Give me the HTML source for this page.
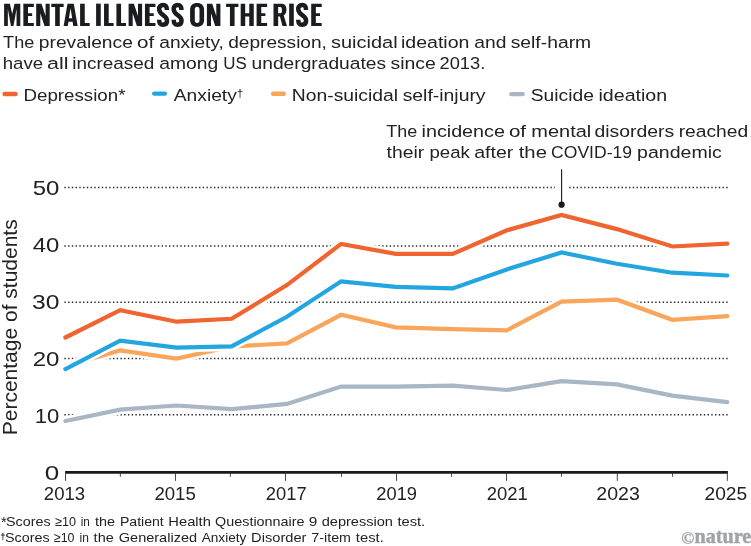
<!DOCTYPE html>
<html lang="en">
<head>
<meta charset="utf-8">
<title>Mental illness on the rise</title>
<style>
html,body{margin:0;padding:0;background:#fff;}
body{width:751px;height:546px;overflow:hidden;font-family:"Liberation Sans",sans-serif;}
svg{display:block;will-change:transform;}
text{font-family:"Liberation Sans",sans-serif;fill:#222222;}
.serif{font-family:"Liberation Serif",serif;}
</style>
</head>
<body>
<svg width="751" height="546" viewBox="0 0 751 546">
<rect width="751" height="546" fill="#fff"/>
<g fill="#1a1d20" fill-rule="evenodd">
<path transform="translate(4.1 3.65)" d="M0,0H5.8L8.1,10.4L10.4,0H16.2V22.3H12.45V5.4L9.35,22.3H6.85L3.75,5.4V22.3H0Z"/>
<path transform="translate(23.35 3.65)" d="M0,0H10.5V3.3H4.65V9.6H8.8V12.4H4.65V19.3H10.5V22.3H0Z"/>
<path transform="translate(36.2 3.65)" d="M0,0H5.3L9.4,12.4V0H13.5V22.3H8.3L4.1,9.7V22.3H0Z"/>
<path transform="translate(51.3 3.65)" d="M0,0H12.35V3.3H8.5V22.3H3.85V3.3H0Z"/>
<path transform="translate(63.65 3.65)" d="M3.85,0H10.15L14.05,22.3H9.65L8.92,18.1H4.82L4.1,22.3H0ZM6.9,4.6L8.55,14.6H5.25Z"/>
<path transform="translate(80.1 3.65)" d="M0,0H4.65V19.3H9.6V22.3H0Z"/>
<path transform="translate(96.1 3.65)" d="M0,0H4.65V22.3H0Z"/>
<path transform="translate(104.05 3.65)" d="M0,0H4.65V19.3H9.6V22.3H0Z"/>
<path transform="translate(116.4 3.65)" d="M0,0H4.65V19.3H9.6V22.3H0Z"/>
<path transform="translate(128.6 3.65)" d="M0,0H5.3L9.4,12.4V0H13.5V22.3H8.3L4.1,9.7V22.3H0Z"/>
<path transform="translate(144.95 3.65)" d="M0,0H10.5V3.3H4.65V9.6H8.8V12.4H4.65V19.3H10.5V22.3H0Z"/>
<path transform="translate(156.85 3.65)" d="M10.05,6.4C10.05,2.7 8.9,1.4 6.2,1.4C3.6,1.4 2.3,2.8 2.3,5.6C2.3,8.6 4.2,10.0 6.3,11.4C8.6,12.9 10.15,14.2 10.15,17.0C10.15,19.9 8.9,21.0 6.2,21.0C3.5,21.0 2.3,19.8 2.3,16.2" fill="none" stroke="#1a1d20" stroke-width="4.5"/>
<path transform="translate(171.4 3.65)" d="M10.05,6.4C10.05,2.7 8.9,1.4 6.2,1.4C3.6,1.4 2.3,2.8 2.3,5.6C2.3,8.6 4.2,10.0 6.3,11.4C8.6,12.9 10.15,14.2 10.15,17.0C10.15,19.9 8.9,21.0 6.2,21.0C3.5,21.0 2.3,19.8 2.3,16.2" fill="none" stroke="#1a1d20" stroke-width="4.5"/>
<path transform="translate(190.1 3.65)" d="M7,-0.7C11.4,-0.7 14,1.5 14,6.3V16.2C14,21 11.4,23.2 7,23.2C2.6,23.2 0,21 0,16.2V6.3C0,1.5 2.6,-0.7 7,-0.7ZM7.05,3.2C8.6,3.2 9.4,4.1 9.4,5.9V16.6C9.4,18.4 8.6,19.3 7.05,19.3C5.5,19.3 4.7,18.4 4.7,16.6V5.9C4.7,4.1 5.5,3.2 7.05,3.2Z"/>
<path transform="translate(206.9 3.65)" d="M0,0H5.3L9.4,12.4V0H13.5V22.3H8.3L4.1,9.7V22.3H0Z"/>
<path transform="translate(226.1 3.65)" d="M0,0H12.35V3.3H8.5V22.3H3.85V3.3H0Z"/>
<path transform="translate(240.7 3.65)" d="M0,0H4.5V9.6H8.55V0H13.05V22.3H8.55V12.9H4.5V22.3H0Z"/>
<path transform="translate(256.6 3.65)" d="M0,0H10.5V3.3H4.65V9.6H8.8V12.4H4.65V19.3H10.5V22.3H0Z"/>
<path transform="translate(273.5 3.65)" d="M0,0H7.6C11.3,0 12.9,1.7 12.9,6.1C12.9,8.9 12.0,10.7 10.2,11.6L13.45,22.3H9.0L6.4,12.9H4.65V22.3H0ZM4.65,3.3H6.5C7.9,3.3 8.45,4.2 8.45,6.5C8.45,8.8 7.9,9.7 6.5,9.7H4.65Z"/>
<path transform="translate(289.15 3.65)" d="M0,0H4.65V22.3H0Z"/>
<path transform="translate(295.95 3.65)" d="M10.05,6.4C10.05,2.7 8.9,1.4 6.2,1.4C3.6,1.4 2.3,2.8 2.3,5.6C2.3,8.6 4.2,10.0 6.3,11.4C8.6,12.9 10.15,14.2 10.15,17.0C10.15,19.9 8.9,21.0 6.2,21.0C3.5,21.0 2.3,19.8 2.3,16.2" fill="none" stroke="#1a1d20" stroke-width="4.5"/>
<path transform="translate(311.2 3.65)" d="M0,0H10.5V3.3H4.65V9.6H8.8V12.4H4.65V19.3H10.5V22.3H0Z"/>
</g>
<text transform="translate(3.10 47.5) rotate(0.02)" font-size="17.2" textLength="31.13" lengthAdjust="spacingAndGlyphs">The</text>
<text transform="translate(38.78 47.5) rotate(0.02)" font-size="17.2" textLength="94.09" lengthAdjust="spacingAndGlyphs">prevalence</text>
<text transform="translate(137.05 47.5) rotate(0.02)" font-size="17.2" textLength="17.17" lengthAdjust="spacingAndGlyphs">of</text>
<text transform="translate(159.29 47.5) rotate(0.02)" font-size="17.2" textLength="64.61" lengthAdjust="spacingAndGlyphs">anxiety,</text>
<text transform="translate(228.25 47.5) rotate(0.02)" font-size="17.2" textLength="98.65" lengthAdjust="spacingAndGlyphs">depression,</text>
<text transform="translate(331.04 47.5) rotate(0.02)" font-size="17.2" textLength="66.54" lengthAdjust="spacingAndGlyphs">suicidal</text>
<text transform="translate(400.98 47.5) rotate(0.02)" font-size="17.2" textLength="68.47" lengthAdjust="spacingAndGlyphs">ideation</text>
<text transform="translate(474.32 47.5) rotate(0.02)" font-size="17.2" textLength="32.08" lengthAdjust="spacingAndGlyphs">and</text>
<text transform="translate(510.70 47.5) rotate(0.02)" font-size="17.2" textLength="80.45" lengthAdjust="spacingAndGlyphs">self-harm</text>
<text transform="translate(2.74 68.8) rotate(0.02)" font-size="17.2" textLength="40.39" lengthAdjust="spacingAndGlyphs">have</text>
<text transform="translate(47.07 68.8) rotate(0.02)" font-size="17.2" textLength="21.45" lengthAdjust="spacingAndGlyphs">all</text>
<text transform="translate(72.17 68.8) rotate(0.02)" font-size="17.2" textLength="82.26" lengthAdjust="spacingAndGlyphs">increased</text>
<text transform="translate(159.28 68.8) rotate(0.02)" font-size="17.2" textLength="59.02" lengthAdjust="spacingAndGlyphs">among</text>
<text transform="translate(223.34 68.8) rotate(0.02)" font-size="17.2" textLength="23.47" lengthAdjust="spacingAndGlyphs">US</text>
<text transform="translate(251.54 68.8) rotate(0.02)" font-size="17.2" textLength="134.47" lengthAdjust="spacingAndGlyphs">undergraduates</text>
<text transform="translate(390.42 68.8) rotate(0.02)" font-size="17.2" textLength="45.32" lengthAdjust="spacingAndGlyphs">since</text>
<text transform="translate(439.53 68.8) rotate(0.02)" font-size="17.2" textLength="45.70" lengthAdjust="spacingAndGlyphs">2013.</text>
<line x1="4.55" y1="94.0" x2="15.55" y2="94.0" stroke="#f0642f" stroke-width="4.4" stroke-linecap="round"/>
<text transform="translate(23.46 101) rotate(0.02)" font-size="17.2" textLength="101.97" lengthAdjust="spacingAndGlyphs">Depression*</text>
<line x1="154.2" y1="93.6" x2="164.85" y2="93.6" stroke="#23a6e0" stroke-width="4.4" stroke-linecap="round"/>
<text transform="translate(173.72 101) rotate(0.02)" font-size="17.2" textLength="69.68" lengthAdjust="spacingAndGlyphs">Anxiety<tspan font-size="10.5" dy="-4.5">†</tspan></text>
<line x1="273.1" y1="93.8" x2="283.8" y2="93.8" stroke="#f9a65c" stroke-width="4.4" stroke-linecap="round"/>
<text transform="translate(291.86 101) rotate(0.02)" font-size="17.2" textLength="106.20" lengthAdjust="spacingAndGlyphs">Non-suicidal</text>
<text transform="translate(402.63 101) rotate(0.02)" font-size="17.2" textLength="82.93" lengthAdjust="spacingAndGlyphs">self-injury</text>
<line x1="511.4" y1="94.1" x2="522.7" y2="94.1" stroke="#a9b6c4" stroke-width="4.4" stroke-linecap="round"/>
<text transform="translate(530.75 101) rotate(0.02)" font-size="17.2" textLength="63.11" lengthAdjust="spacingAndGlyphs">Suicide</text>
<text transform="translate(598.46 101) rotate(0.02)" font-size="17.2" textLength="68.71" lengthAdjust="spacingAndGlyphs">ideation</text>
<text transform="translate(386.36 136.8) rotate(0.02)" font-size="17.2" textLength="30.89" lengthAdjust="spacingAndGlyphs">The</text>
<text transform="translate(421.52 136.8) rotate(0.02)" font-size="17.2" textLength="83.40" lengthAdjust="spacingAndGlyphs">incidence</text>
<text transform="translate(508.89 136.8) rotate(0.02)" font-size="17.2" textLength="17.13" lengthAdjust="spacingAndGlyphs">of</text>
<text transform="translate(531.35 136.8) rotate(0.02)" font-size="17.2" textLength="59.92" lengthAdjust="spacingAndGlyphs">mental</text>
<text transform="translate(594.47 136.8) rotate(0.02)" font-size="17.2" textLength="79.78" lengthAdjust="spacingAndGlyphs">disorders</text>
<text transform="translate(678.71 136.8) rotate(0.02)" font-size="17.2" textLength="69.51" lengthAdjust="spacingAndGlyphs">reached</text>
<text transform="translate(386.54 158.1) rotate(0.02)" font-size="17.2" textLength="37.62" lengthAdjust="spacingAndGlyphs">their</text>
<text transform="translate(429.42 158.1) rotate(0.02)" font-size="17.2" textLength="40.43" lengthAdjust="spacingAndGlyphs">peak</text>
<text transform="translate(474.22 158.1) rotate(0.02)" font-size="17.2" textLength="39.17" lengthAdjust="spacingAndGlyphs">after</text>
<text transform="translate(518.72 158.1) rotate(0.02)" font-size="17.2" textLength="28.20" lengthAdjust="spacingAndGlyphs">the</text>
<text transform="translate(551.12 158.1) rotate(0.02)" font-size="17.2" textLength="80.86" lengthAdjust="spacingAndGlyphs">COVID-19</text>
<text transform="translate(637.11 158.1) rotate(0.02)" font-size="17.2" textLength="84.68" lengthAdjust="spacingAndGlyphs">pandemic</text>
<line x1="64.36" y1="187.4" x2="727.7" y2="187.4" stroke="#262626" stroke-width="1.45" stroke-dasharray="1.4 2.3394"/>
<line x1="64.36" y1="245.95" x2="727.7" y2="245.95" stroke="#262626" stroke-width="1.45" stroke-dasharray="1.4 2.3394"/>
<line x1="64.36" y1="302.3" x2="727.7" y2="302.3" stroke="#262626" stroke-width="1.45" stroke-dasharray="1.4 2.3394"/>
<line x1="64.36" y1="358.5" x2="727.7" y2="358.5" stroke="#262626" stroke-width="1.45" stroke-dasharray="1.4 2.3394"/>
<line x1="64.36" y1="414.8" x2="727.7" y2="414.8" stroke="#262626" stroke-width="1.45" stroke-dasharray="1.4 2.3394"/>
<rect x="555" y="180" width="12.5" height="14" fill="#fff"/>
<polyline points="65.4,421.0 120.2,409.6 176.6,405.5 231.6,409.2 286.9,403.9 341.1,386.5 395.8,386.7 452.7,385.6 506.9,390.0 561.5,381.1 616.9,384.4 672.3,395.6 727.3,402.1" fill="none" stroke="#fff" stroke-width="9.4" stroke-linecap="round" stroke-linejoin="round"/>
<polyline points="65.4,421.0 120.2,409.6 176.6,405.5 231.6,409.2 286.9,403.9 341.1,386.5 395.8,386.7 452.7,385.6 506.9,390.0 561.5,381.1 616.9,384.4 672.3,395.6 727.3,402.1" fill="none" stroke="#a9b6c4" stroke-width="4.2" stroke-linecap="round" stroke-linejoin="miter" stroke-miterlimit="3"/>
<polyline points="65.4,366.0 120.2,350.4 176.6,358.6 231.6,346.5 286.9,343.4 341.1,314.8 395.8,327.4 452.7,329.1 506.9,330.3 561.5,301.7 616.9,299.7 672.3,319.8 727.3,316.2" fill="none" stroke="#fff" stroke-width="9.4" stroke-linecap="round" stroke-linejoin="round"/>
<polyline points="65.4,366.0 120.2,350.4 176.6,358.6 231.6,346.5 286.9,343.4 341.1,314.8 395.8,327.4 452.7,329.1 506.9,330.3 561.5,301.7 616.9,299.7 672.3,319.8 727.3,316.2" fill="none" stroke="#f9a65c" stroke-width="4.2" stroke-linecap="round" stroke-linejoin="miter" stroke-miterlimit="3"/>
<polyline points="65.4,369.1 120.2,340.7 176.6,347.7 231.6,346.3 286.9,316.8 341.1,281.3 395.8,286.9 452.7,288.4 506.9,269.4 561.5,252.5 616.9,263.8 672.3,272.7 727.3,275.5" fill="none" stroke="#fff" stroke-width="9.4" stroke-linecap="round" stroke-linejoin="round"/>
<polyline points="65.4,369.1 120.2,340.7 176.6,347.7 231.6,346.3 286.9,316.8 341.1,281.3 395.8,286.9 452.7,288.4 506.9,269.4 561.5,252.5 616.9,263.8 672.3,272.7 727.3,275.5" fill="none" stroke="#23a6e0" stroke-width="4.2" stroke-linecap="round" stroke-linejoin="miter" stroke-miterlimit="3"/>
<polyline points="65.4,337.5 120.2,310.2 176.6,321.7 231.6,318.8 286.9,285.1 341.1,243.9 395.8,253.9 452.7,253.9 506.9,230.3 561.5,215.0 616.9,229.1 672.3,246.5 727.3,243.6" fill="none" stroke="#fff" stroke-width="9.4" stroke-linecap="round" stroke-linejoin="round"/>
<polyline points="65.4,337.5 120.2,310.2 176.6,321.7 231.6,318.8 286.9,285.1 341.1,243.9 395.8,253.9 452.7,253.9 506.9,230.3 561.5,215.0 616.9,229.1 672.3,246.5 727.3,243.6" fill="none" stroke="#f0642f" stroke-width="4.2" stroke-linecap="round" stroke-linejoin="miter" stroke-miterlimit="3"/>
<line x1="561.6" y1="169.3" x2="561.6" y2="204.5" stroke="#1a1a1a" stroke-width="1.1"/>
<circle cx="561.6" cy="204.7" r="3.1" fill="#1a1a1a"/>
<line x1="65.1" y1="472.35" x2="727.9" y2="472.35" stroke="#1a1a1a" stroke-width="2.7"/>
<line x1="65.55" y1="472.35" x2="65.55" y2="480.9" stroke="#333" stroke-width="0.9"/>
<line x1="120.33" y1="472.35" x2="120.33" y2="476.8" stroke="#333" stroke-width="0.9"/>
<line x1="175.50" y1="472.35" x2="175.50" y2="480.9" stroke="#333" stroke-width="0.9"/>
<line x1="230.33" y1="472.35" x2="230.33" y2="476.8" stroke="#333" stroke-width="0.9"/>
<line x1="285.50" y1="472.35" x2="285.50" y2="480.9" stroke="#333" stroke-width="0.9"/>
<line x1="341.50" y1="472.35" x2="341.50" y2="476.8" stroke="#333" stroke-width="0.9"/>
<line x1="396.56" y1="472.35" x2="396.56" y2="480.9" stroke="#333" stroke-width="0.9"/>
<line x1="451.50" y1="472.35" x2="451.50" y2="476.8" stroke="#333" stroke-width="0.9"/>
<line x1="506.56" y1="472.35" x2="506.56" y2="480.9" stroke="#333" stroke-width="0.9"/>
<line x1="561.50" y1="472.35" x2="561.50" y2="476.8" stroke="#333" stroke-width="0.9"/>
<line x1="617.30" y1="472.35" x2="617.30" y2="480.9" stroke="#333" stroke-width="0.9"/>
<line x1="672.57" y1="472.35" x2="672.57" y2="476.8" stroke="#333" stroke-width="0.9"/>
<line x1="727.35" y1="472.35" x2="727.35" y2="480.9" stroke="#333" stroke-width="0.9"/>
<text transform="translate(32.65 194.7) rotate(0.02)" font-size="20.6" textLength="26.64" lengthAdjust="spacingAndGlyphs">50</text>
<text transform="translate(32.77 251.7) rotate(0.02)" font-size="20.6" textLength="26.60" lengthAdjust="spacingAndGlyphs">40</text>
<text transform="translate(31.97 308.7) rotate(0.02)" font-size="20.6" textLength="27.45" lengthAdjust="spacingAndGlyphs">30</text>
<text transform="translate(32.63 365.7) rotate(0.02)" font-size="20.6" textLength="26.70" lengthAdjust="spacingAndGlyphs">20</text>
<text transform="translate(34.82 422.7) rotate(0.02)" font-size="20.6" textLength="24.49" lengthAdjust="spacingAndGlyphs">10</text>
<text transform="translate(44.72 480.0) rotate(0.02)" font-size="20.6" textLength="14.47" lengthAdjust="spacingAndGlyphs">0</text>
<text transform="translate(43.84 500.45) rotate(0.02)" font-size="18.6" textLength="41.29" lengthAdjust="spacingAndGlyphs">2013</text>
<text transform="translate(154.42 500.45) rotate(0.02)" font-size="18.6" textLength="41.42" lengthAdjust="spacingAndGlyphs">2015</text>
<text transform="translate(265.83 500.45) rotate(0.02)" font-size="18.6" textLength="40.80" lengthAdjust="spacingAndGlyphs">2017</text>
<text transform="translate(376.27 500.45) rotate(0.02)" font-size="18.6" textLength="40.73" lengthAdjust="spacingAndGlyphs">2019</text>
<text transform="translate(486.83 500.45) rotate(0.02)" font-size="18.6" textLength="41.07" lengthAdjust="spacingAndGlyphs">2021</text>
<text transform="translate(596.36 500.45) rotate(0.02)" font-size="18.6" textLength="43.48" lengthAdjust="spacingAndGlyphs">2023</text>
<text transform="translate(704.49 500.45) rotate(0.02)" font-size="18.6" textLength="42.72" lengthAdjust="spacingAndGlyphs">2025</text>
<text transform="translate(16.7 435.3) rotate(-90)" font-size="19.8" textLength="216" lengthAdjust="spacingAndGlyphs">Percentage of students</text>
<text x="1.0" y="526.6" font-size="14.5">*</text>
<text transform="translate(6.02 525.7) rotate(0.02)" font-size="13.3" textLength="44.59" lengthAdjust="spacingAndGlyphs">Scores</text>
<text transform="translate(55.10 525.7) rotate(0.02)" font-size="13.3" textLength="21.00" lengthAdjust="spacingAndGlyphs">≥10</text>
<text transform="translate(80.70 525.7) rotate(0.02)" font-size="13.3" textLength="9.10" lengthAdjust="spacingAndGlyphs">in</text>
<text transform="translate(95.02 525.7) rotate(0.02)" font-size="13.3" textLength="20.09" lengthAdjust="spacingAndGlyphs">the</text>
<text transform="translate(119.91 525.7) rotate(0.02)" font-size="13.3" textLength="43.88" lengthAdjust="spacingAndGlyphs">Patient</text>
<text transform="translate(168.32 525.7) rotate(0.02)" font-size="13.3" textLength="42.54" lengthAdjust="spacingAndGlyphs">Health</text>
<text transform="translate(215.12 525.7) rotate(0.02)" font-size="13.3" textLength="89.41" lengthAdjust="spacingAndGlyphs">Questionnaire</text>
<text transform="translate(308.79 525.7) rotate(0.02)" font-size="13.3" textLength="8.54" lengthAdjust="spacingAndGlyphs">9</text>
<text transform="translate(321.69 525.7) rotate(0.02)" font-size="13.3" textLength="71.30" lengthAdjust="spacingAndGlyphs">depression</text>
<text transform="translate(397.40 525.7) rotate(0.02)" font-size="13.3" textLength="27.83" lengthAdjust="spacingAndGlyphs">test.</text>
<text x="0.3" y="539.6" font-size="9.5" font-weight="bold">†</text>
<text transform="translate(5.02 542.3) rotate(0.02)" font-size="13.3" textLength="44.59" lengthAdjust="spacingAndGlyphs">Scores</text>
<text transform="translate(53.87 542.3) rotate(0.02)" font-size="13.3" textLength="20.61" lengthAdjust="spacingAndGlyphs">≥10</text>
<text transform="translate(79.48 542.3) rotate(0.02)" font-size="13.3" textLength="9.30" lengthAdjust="spacingAndGlyphs">in</text>
<text transform="translate(93.62 542.3) rotate(0.02)" font-size="13.3" textLength="20.07" lengthAdjust="spacingAndGlyphs">the</text>
<text transform="translate(118.79 542.3) rotate(0.02)" font-size="13.3" textLength="78.24" lengthAdjust="spacingAndGlyphs">Generalized</text>
<text transform="translate(201.66 542.3) rotate(0.02)" font-size="13.3" textLength="44.76" lengthAdjust="spacingAndGlyphs">Anxiety</text>
<text transform="translate(251.09 542.3) rotate(0.02)" font-size="13.3" textLength="55.35" lengthAdjust="spacingAndGlyphs">Disorder</text>
<text transform="translate(311.35 542.3) rotate(0.02)" font-size="13.3" textLength="39.62" lengthAdjust="spacingAndGlyphs">7-item</text>
<text transform="translate(355.86 542.3) rotate(0.02)" font-size="13.3" textLength="27.91" lengthAdjust="spacingAndGlyphs">test.</text>
<text class="serif" x="681.3" y="543.6" font-size="17.5" font-weight="bold" style="fill:#a0a4a6;stroke:#a0a4a6;stroke-width:0.3">©</text>
<text class="serif" x="694.6" y="542.7" font-size="21" font-weight="bold" textLength="56.6" lengthAdjust="spacingAndGlyphs" style="fill:#a0a4a6;stroke:#a0a4a6;stroke-width:0.45">nature</text>
</svg>
</body>
</html>
